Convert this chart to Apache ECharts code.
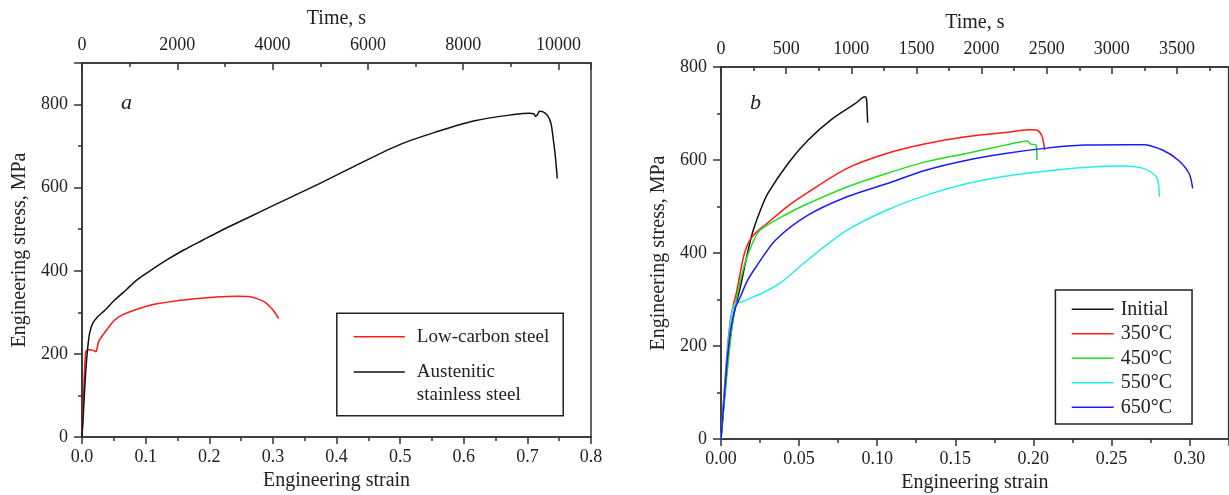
<!DOCTYPE html>
<html><head><meta charset="utf-8">
<script src="https://cdn.jsdelivr.net/npm/echarts@6/dist/echarts.min.js"></script>
<style>html,body{margin:0;padding:0;background:#fff}#c{width:1229px;height:495px}</style>
</head><body><div id="c"></div>
<script>
// ---------- Panel a data ----------
const lowCarbonStrain = [0, 0.002, 0.004, 0.006, 0.009, 0.013, 0.017, 0.020, 0.022, 0.026, 0.035, 0.051, 0.065, 0.082, 0.100, 0.120, 0.150, 0.182, 0.210, 0.244, 0.262, 0.275, 0.287, 0.295, 0.302, 0.309];
const lowCarbonStress = [0, 80, 160, 205, 210, 210, 209, 207, 205, 229, 250, 281, 295, 305, 314, 321, 328, 333, 337, 339, 338, 333, 325, 314, 302, 285];
const austeniticStrain = [0, 0.003, 0.006, 0.009, 0.012, 0.017, 0.025, 0.036, 0.051, 0.070, 0.0855, 0.107, 0.132, 0.160, 0.190, 0.219, 0.260, 0.306, 0.356, 0.400, 0.430, 0.4985, 0.5545, 0.617, 0.679, 0.7035, 0.710, 0.713, 0.716, 0.719, 0.724, 0.7315, 0.737, 0.741, 0.744, 0.747];
const austeniticStress = [0, 80, 160, 215, 250, 274, 290, 305, 329, 355, 377, 400, 425, 450, 474, 497, 527, 561, 597, 630, 653, 703, 733, 761, 776, 779, 778, 772, 776, 784, 783, 774, 755, 713, 675, 622];
// ---------- Panel b data ----------
const initialStrain = [0, 0.003, 0.006, 0.009, 0.0124, 0.016, 0.020, 0.025, 0.030, 0.0428, 0.0555, 0.0706, 0.0858, 0.0922, 0.0932, 0.0936, 0.0939];
const initialStress = [0, 120, 220, 280, 327, 385, 442, 490, 528, 592, 642, 687, 721, 736, 730, 705, 680];
const t350Strain = [0, 0.002, 0.004, 0.006, 0.008, 0.0099, 0.015, 0.020, 0.030, 0.0428, 0.0555, 0.0807, 0.106, 0.131, 0.1567, 0.182, 0.197, 0.2023, 0.2047, 0.206, 0.2073];
const t350Stress = [0, 100, 190, 255, 290, 315, 399, 435, 465, 501, 530, 582, 614, 635, 650, 659, 665, 664, 657, 646, 621];
const t450Strain = [0, 0.003, 0.006, 0.009, 0.012, 0.016, 0.020, 0.025, 0.0428, 0.0555, 0.0807, 0.106, 0.131, 0.157, 0.182, 0.196, 0.1985, 0.2017, 0.2023];
const t450Stress = [0, 110, 210, 285, 335, 385, 420, 449, 485, 506, 542, 571, 596, 614, 632, 641, 634, 632, 600];
const t550Strain = [0, 0.002, 0.004, 0.006, 0.008, 0.010, 0.015, 0.020, 0.026, 0.0378, 0.0555, 0.0807, 0.106, 0.131, 0.157, 0.182, 0.207, 0.2326, 0.258, 0.2705, 0.276, 0.2794, 0.2807];
const t550Stress = [0, 90, 180, 250, 285, 292, 297, 305, 313, 335, 385, 449, 492, 524, 549, 565, 576, 584, 587, 582, 572, 560, 521];
const t650Strain = [0, 0.002, 0.004, 0.006, 0.009, 0.0124, 0.017, 0.0224, 0.035, 0.0554, 0.0807, 0.106, 0.131, 0.1567, 0.182, 0.207, 0.2326, 0.258, 0.2705, 0.283, 0.293, 0.2997, 0.302];
const t650Stress = [0, 85, 170, 230, 280, 306, 341, 370, 428, 481, 521, 549, 578, 599, 614, 625, 632, 633, 633, 621, 599, 571, 539];
// ---------- Tick values ----------
const aStrainTicks = [0, 0.1, 0.2, 0.3, 0.4, 0.5, 0.6, 0.7, 0.8];
const aStrainMinor = [0.05, 0.15, 0.25, 0.35, 0.45, 0.55, 0.65, 0.75];
const aStressTicks = [0, 200, 400, 600, 800];
const aStressMinor = [100, 300, 500, 700];
const aTimeTicks = [0, 2000, 4000, 6000, 8000, 10000];
const aTimeMinor = [1000, 3000, 5000, 7000, 9000];
const bStrainTicks = [0, 0.05, 0.10, 0.15, 0.20, 0.25, 0.30];
const bStrainMinor = [0.025, 0.075, 0.125, 0.175, 0.225, 0.275];
const bStressTicks = [0, 200, 400, 600, 800];
const bStressMinor = [100, 300, 500, 700];
const bTimeTicks = [0, 500, 1000, 1500, 2000, 2500, 3000, 3500];
const bTimeMinor = [250, 750, 1250, 1750, 2250, 2750, 3250, 3750];

const FONT = '"Liberation Serif", "Times New Roman", serif';
const AX = '#333';
const TXT = '#222';
const zip = (xs, ys) => xs.map((x, i) => [x, ys[i]]);

// axis carrying the line, major ticks, labels and the title
function labelAxis(grid, pos, min, max, ticks, fmt, name, nameGap, margin, inside, len) {
  const step = ticks[1] - ticks[0];
  return {
    type: 'value', gridIndex: grid, position: pos, min: min, max: max, interval: step,
    axisLine: {show: true, onZero: false, lineStyle: {color: AX, width: 1.5}},
    axisTick: {show: true, inside: inside, length: len, lineStyle: {color: AX, width: 1.5}},
    axisLabel: {show: true, margin: margin, fontFamily: FONT, fontSize: 18, color: TXT,
      formatter: v => (ticks.some(t => Math.abs(t - v) < step * 1e-6) ? fmt(v) : '')},
    splitLine: {show: false},
    name: name, nameLocation: 'middle', nameGap: nameGap,
    nameTextStyle: {fontFamily: FONT, fontSize: 20, color: TXT}
  };
}
// axis carrying only the minor tick marks
function tickAxis(grid, pos, min, max, ticks, inside, len) {
  return {
    type: 'value', gridIndex: grid, position: pos, min: min, max: max,
    axisLine: {show: false, onZero: false},
    axisTick: {show: true, inside: inside, length: len, customValues: ticks, lineStyle: {color: AX, width: 1.5}},
    axisLabel: {show: false}, splitLine: {show: false}
  };
}
const f1 = v => v.toFixed(1), f2 = v => v.toFixed(2), f0 = v => String(v);

const xAxis = [
  labelAxis(0, 'bottom', 0, 0.8, aStrainTicks, f1, 'Engineering strain', 33, 11, false, 7),   // 0
  tickAxis(0, 'bottom', 0, 0.8, aStrainMinor, false, 4),
  labelAxis(0, 'top', 0, 10682, aTimeTicks, f0, 'Time, s', 34, 9, true, 7),
  tickAxis(0, 'top', 0, 10682, aTimeMinor, true, 4),
  labelAxis(1, 'bottom', 0, 0.325, bStrainTicks, f2, 'Engineering strain', 33, 11, false, 7), // 4
  tickAxis(1, 'bottom', 0, 0.325, bStrainMinor, false, 4),
  labelAxis(1, 'top', 0, 3896, bTimeTicks, f0, 'Time, s', 34, 9, true, 7),
  tickAxis(1, 'top', 0, 3896, bTimeMinor, true, 4)
];
const yAxis = [
  labelAxis(0, 'left', 0, 900, aStressTicks, f0, 'Engineering stress, MPa', 52, 14, false, 8), // 0
  tickAxis(0, 'left', 0, 900, aStressMinor, false, 4),
  labelAxis(1, 'left', 0, 800, bStressTicks, f0, 'Engineering stress, MPa', 52, 14, false, 8), // 2
  tickAxis(1, 'left', 0, 800, bStressMinor, false, 4)
];

function line(name, xi, yi, data, color) {
  return {type: 'line', name: name, xAxisIndex: xi, yAxisIndex: yi, data: data,
    symbol: 'none', showSymbol: false, smooth: 0.3, animation: false,
    lineStyle: {color: color, width: 1.5}, itemStyle: {color: color}};
}
const TWO_LINE = 'Austenitic\nstainless steel';

const option = {
  animation: false,
  backgroundColor: '#fff',
  grid: [
    {left: 82, top: 63, width: 509, height: 374, show: true, borderColor: AX, borderWidth: 1.5, outerBoundsMode: 'none'},
    {left: 721, top: 67, width: 507.6, height: 372, show: true, borderColor: AX, borderWidth: 1.5, outerBoundsMode: 'none'}
  ],
  xAxis: xAxis,
  yAxis: yAxis,
  legend: [
    {
      data: ['Low-carbon steel', TWO_LINE],
      formatter: n => (n === TWO_LINE ? '\n' + n : n),
      orient: 'vertical', left: 336.8, top: 313.3, padding: [11.75, 14, 8.75, 17],
      itemGap: -11.3, itemWidth: 51, itemHeight: 14, selectedMode: false,
      icon: 'path://M0,0L51,0L51,1.5L0,1.5Z',
      borderColor: '#222', borderWidth: 1.5, borderRadius: 0,
      textStyle: {fontFamily: FONT, fontSize: 19, lineHeight: 23.3, color: TXT, padding: [0, 0, 0, 7]}
    },
    {
      data: ['Initial', '350°C', '450°C', '550°C', '650°C'],
      orient: 'vertical', left: 1055.4, top: 290, padding: [7, 20, 4.5, 16.3],
      itemGap: 0, itemWidth: 42, itemHeight: 14, selectedMode: false,
      icon: 'path://M0,0L42,0L42,1.5L0,1.5Z',
      borderColor: '#222', borderWidth: 1.5, borderRadius: 0,
      textStyle: {fontFamily: FONT, fontSize: 20, lineHeight: 24.5, color: TXT, padding: [0, 0, 0, 2]}
    }
  ],
  graphic: [
    {type: 'text', left: 121, top: 92, style: {text: 'a', font: 'italic 22px ' + FONT, fill: TXT}},
    {type: 'text', left: 750, top: 92, style: {text: 'b', font: 'italic 22px ' + FONT, fill: TXT}}
  ],
  series: [
    line('Low-carbon steel', 0, 0, zip(lowCarbonStrain, lowCarbonStress), '#ff1a1a'),
    line(TWO_LINE, 0, 0, zip(austeniticStrain, austeniticStress), '#111111'),
    line('Initial', 4, 2, zip(initialStrain, initialStress), '#111111'),
    line('350°C', 4, 2, zip(t350Strain, t350Stress), '#ff1a1a'),
    line('450°C', 4, 2, zip(t450Strain, t450Stress), '#22dd22'),
    line('550°C', 4, 2, zip(t550Strain, t550Stress), '#22eeee'),
    line('650°C', 4, 2, zip(t650Strain, t650Stress), '#1a1aff')
  ]
};
const chart = echarts.init(document.getElementById('c'), null, {renderer: 'canvas'});
chart.setOption(option);
</script></body></html>
